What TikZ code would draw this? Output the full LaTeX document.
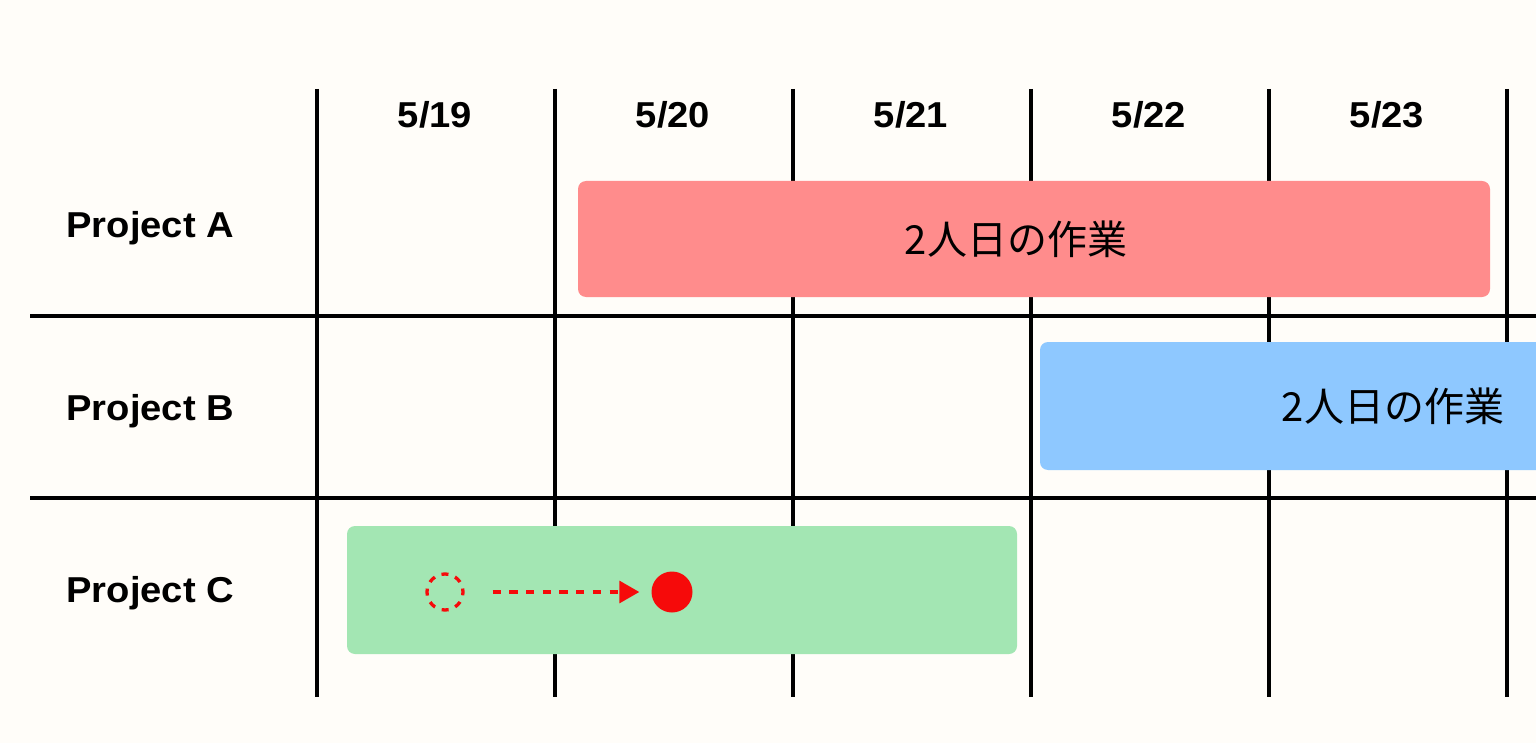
\documentclass[tikz,border=0pt]{standalone}
\usepackage{fontspec}
\setmainfont{Liberation Sans}
\newfontfamily\labelfont[FakeStretch=1.06]{Liberation Sans}
\newfontfamily\jpfont{Noto Sans CJK JP}
\usetikzlibrary{arrows.meta}

\definecolor{bgcol}{HTML}{FFFDF9}
\definecolor{barred}{HTML}{FF8C8C}
\definecolor{barblue}{HTML}{8EC8FF}
\definecolor{bargreen}{HTML}{A3E6B3}
\definecolor{dotred}{HTML}{F60A0A}

\begin{document}
\begin{tikzpicture}[x=1pt,y=-1pt,
    gridline/.style={line width=3.2pt},
    datelabel/.style={font=\labelfont\fontsize{36}{40}\selectfont\bfseries, anchor=base},
    projlabel/.style={font=\labelfont\fontsize{36}{40}\selectfont\bfseries, anchor=base west},
    bartext/.style={font=\jpfont\fontsize{40}{46}\selectfont},
    bar/.style={rounded corners=8pt}]

    % Background
    \fill[bgcol] (0,0) rectangle (1536,743);
    \useasboundingbox (0,0) rectangle (1536,743);
    \clip (0,0) rectangle (1536,743);

    % Grid
    \foreach \x in {317,555,793,1031,1269,1507}
        \draw[gridline] (\x,89) -- (\x,697);
    \draw[gridline] (30,316) -- (1536,316);
    \draw[gridline] (30,498) -- (1536,498);

    % Bars
    \fill[bar,barred] (578,181) rectangle (1490,297);
    \fill[bar,barblue] (1040,342) rectangle (1760,470);
    \fill[bar,bargreen] (347,526) rectangle (1017,654);

    % Dates
    \node[datelabel] (d19) at (435,128) {5/19};
    \node[datelabel] (d20) at (673,128) {5/20};
    \node[datelabel] (d21) at (911,128) {5/21};
    \node[datelabel] (d22) at (1149,128) {5/22};
    \node[datelabel] (d23) at (1387,128) {5/23};

    % Projects
    \node[projlabel] (projA) at (63,238) {Project A};
    \node[projlabel] (projB) at (63,420) {Project B};
    \node[projlabel] (projC) at (63,602) {Project C};

    % Bar texts
    \node[bartext] (workA) at (1016,239) {2人日の作業};
    \node[bartext] (workB) at (1393,406) {2人日の作業};

    % Moving the task
    \node[circle, draw=dotred, line width=3.3pt, dash pattern=on 7pt off 7.14pt,
          dash phase=3.5pt, minimum size=36pt, inner sep=0pt] (oldpos) at (445,592) {};
    \node[circle, fill=dotred, minimum size=41pt, inner sep=0pt] (newpos) at (672,592) {};
    \draw[dotred, line width=3.3pt, dash pattern=on 8.3pt off 8.4pt,
          -{Triangle[length=20pt,width=22pt]},
          shorten <=28pt, shorten >=12pt] (oldpos) -- (newpos);

\end{tikzpicture}
\end{document}
